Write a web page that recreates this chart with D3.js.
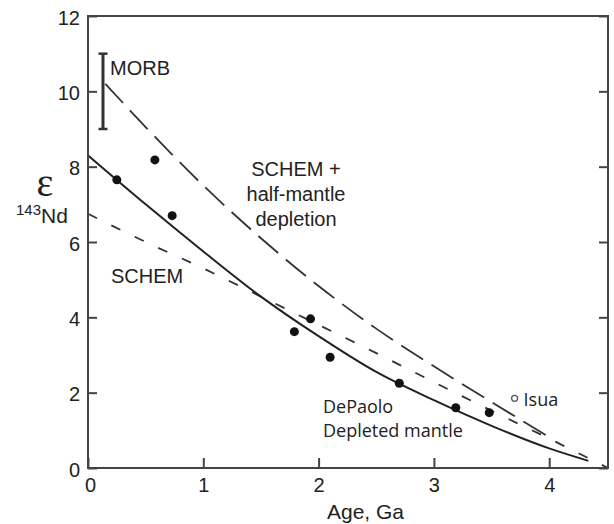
<!DOCTYPE html>
<html>
<head>
<meta charset="utf-8">
<script src="https://cdn.jsdelivr.net/npm/d3@7"></script>
<style>
body { margin: 0; background: #fff; }
text { fill: #222; }
.axis path { display: none; }
.axis line { stroke: #444; stroke-width: 2; }
.axis text { font-family: "Liberation Sans", Arial, sans-serif; font-size: 20px; fill: #222; }
.lbl { font-family: "Liberation Sans", Arial, sans-serif; font-size: 20px; }
.lbl2 { font-family: "Open Sans", sans-serif; font-size: 18px; }
</style>
</head>
<body>
<svg class="chart"></svg>
<script>

// dated samples (age Ga, eps Nd)
var sampleAge = [0.25, 0.58, 0.73, 1.79, 1.93, 2.10, 2.70, 3.19, 3.48];
var sampleEps = [7.65, 8.18, 6.70, 3.62, 3.96, 2.94, 2.25, 1.60, 1.47];
var isuaAge = 3.70, isuaEps = 1.85;

// model curves
var depaoloAge = [0, 0.5, 1, 1.5, 2, 2.5, 3, 3.5, 4, 4.34];
var depaoloEps = [8.3, 7.0, 5.75, 4.55, 3.5, 2.55, 1.8, 1.12, 0.52, 0.19];
var schemAge = [0, 0.5, 1, 1.5, 2, 2.5, 3, 3.5, 4, 4.51];
var schemEps = [6.75, 6.0, 5.3, 4.55, 3.8, 3.05, 2.28, 1.52, 0.78, 0];
var halfAge = [0.15, 0.5, 1, 1.5, 2, 2.5, 3, 3.5, 4.0];
var halfEps = [10.2, 9.05, 7.5, 6.1, 4.83, 3.7, 2.7, 1.75, 0.82];

// MORB range
var morbAge = 0.13, morbLo = 9, morbHi = 11;

var xTicks = [0, 1, 2, 3, 4];
var yTicks = [0, 2, 4, 6, 8, 10, 12];

var margin = {top: 16, right: 6, bottom: 56, left: 88},
	width = 614 - margin.left - margin.right,
	height = 524 - margin.top - margin.bottom;

var x = d3.scaleLinear().domain([0, 4.51]).range([0, width]);
var y = d3.scaleLinear().domain([0, 12]).range([height, 0]);

var svg = d3.select(".chart")
	.attr("width", 614)
	.attr("height", 524);
var chart = svg.append("g")
	.attr("transform", "translate(" + margin.left + "," + margin.top + ")");

function pairs(a, b) { return a.map(function(v, i) { return [v, b[i]]; }); }

var line = d3.line()
	.x(function(d) { return x(d[0]); })
	.y(function(d) { return y(d[1]); })
	.curve(d3.curveMonotoneX);

chart.append("path")
	.attr("d", line(pairs(halfAge, halfEps)))
	.attr("fill", "none").attr("stroke", "#333").attr("stroke-width", 1.8)
	.attr("stroke-dasharray", "26,10");
chart.append("path")
	.attr("d", line(pairs(schemAge, schemEps)))
	.attr("fill", "none").attr("stroke", "#333").attr("stroke-width", 1.8)
	.attr("stroke-dasharray", "10,16");
chart.append("path")
	.attr("d", line(pairs(depaoloAge, depaoloEps)))
	.attr("fill", "none").attr("stroke", "#222").attr("stroke-width", 2);

chart.selectAll(".pt")
	.data(pairs(sampleAge, sampleEps))
  .enter().append("circle")
	.attr("class", "pt")
	.attr("cx", function(d) { return x(d[0]); })
	.attr("cy", function(d) { return y(d[1]); })
	.attr("r", 4.5)
	.attr("fill", "#111");

chart.append("circle")
	.attr("cx", x(isuaAge)).attr("cy", y(isuaEps)).attr("r", 3)
	.attr("fill", "#fff").attr("stroke", "#555").attr("stroke-width", 1.3);

// MORB bar
var mx = x(morbAge);
chart.append("line").attr("x1", mx).attr("x2", mx).attr("y1", y(morbLo)).attr("y2", y(morbHi))
	.attr("stroke", "#333").attr("stroke-width", 3);
[morbLo, morbHi].forEach(function(v) {
	chart.append("line").attr("x1", mx - 4.5).attr("x2", mx + 4.5).attr("y1", y(v)).attr("y2", y(v))
		.attr("stroke", "#333").attr("stroke-width", 2.5);
});

// axes, ticks inward
chart.append("g").attr("class", "axis")
	.attr("transform", "translate(0," + height + ")")
	.call(d3.axisBottom(x).tickValues(xTicks).tickFormat(d3.format("d"))
		.tickSizeInner(-10).tickSizeOuter(0).tickPadding(10))
	.selectAll("text").attr("dx", function(d) { return d === 0 ? "2px" : 0; });
chart.append("g").attr("class", "axis")
	.call(d3.axisLeft(y).tickValues(yTicks).tickFormat(d3.format("d"))
		.tickSizeInner(-9).tickSizeOuter(0).tickPadding(8))
	.selectAll("text").attr("dy", "0.4em");
chart.append("g").attr("class", "axis")
	.attr("transform", "translate(" + width + ",0)")
	.call(d3.axisRight(y).tickValues(yTicks).tickSizeInner(-9).tickSizeOuter(0).tickFormat(""));

chart.append("rect")
	.attr("width", width).attr("height", height)
	.attr("fill", "none").attr("stroke", "#444").attr("stroke-width", 2);

// labels
chart.append("text").attr("class", "lbl").attr("x", mx + 7).attr("y", 59).text("MORB");
var half = chart.append("text").attr("class", "lbl").attr("text-anchor", "middle");
["SCHEM +", "half-mantle", "depletion"].forEach(function(s, i) {
	half.append("tspan").attr("x", 208).attr("y", 160 + i * 25).text(s);
});
chart.append("text").attr("class", "lbl").attr("x", 23).attr("y", 267).text("SCHEM");
chart.append("text").attr("class", "lbl2").attr("x", 235).attr("y", 397).text("DePaolo");
chart.append("text").attr("class", "lbl2").attr("x", 235).attr("y", 421).text("Depleted mantle");
chart.append("text").attr("class", "lbl2").attr("font-size", "17px")
	.attr("x", x(isuaAge) + 9).attr("y", y(isuaEps) + 8).text("Isua");

svg.append("text").attr("class", "lbl").attr("x", 327).attr("y", 519)
	.style("font-size", "21px").text("Age, Ga");
svg.append("text").attr("x", 45).attr("y", 196).attr("text-anchor", "middle")
	.style("font-family", "'Liberation Serif', serif").style("font-size", "40px").text("ε");
var nd = svg.append("text").attr("class", "lbl").attr("x", 16).attr("y", 223);
nd.append("tspan").style("font-size", "15px").attr("dy", -8).text("143");
nd.append("tspan").style("font-size", "21px").attr("dy", 8).text("Nd");

</script>
</body>
</html>
